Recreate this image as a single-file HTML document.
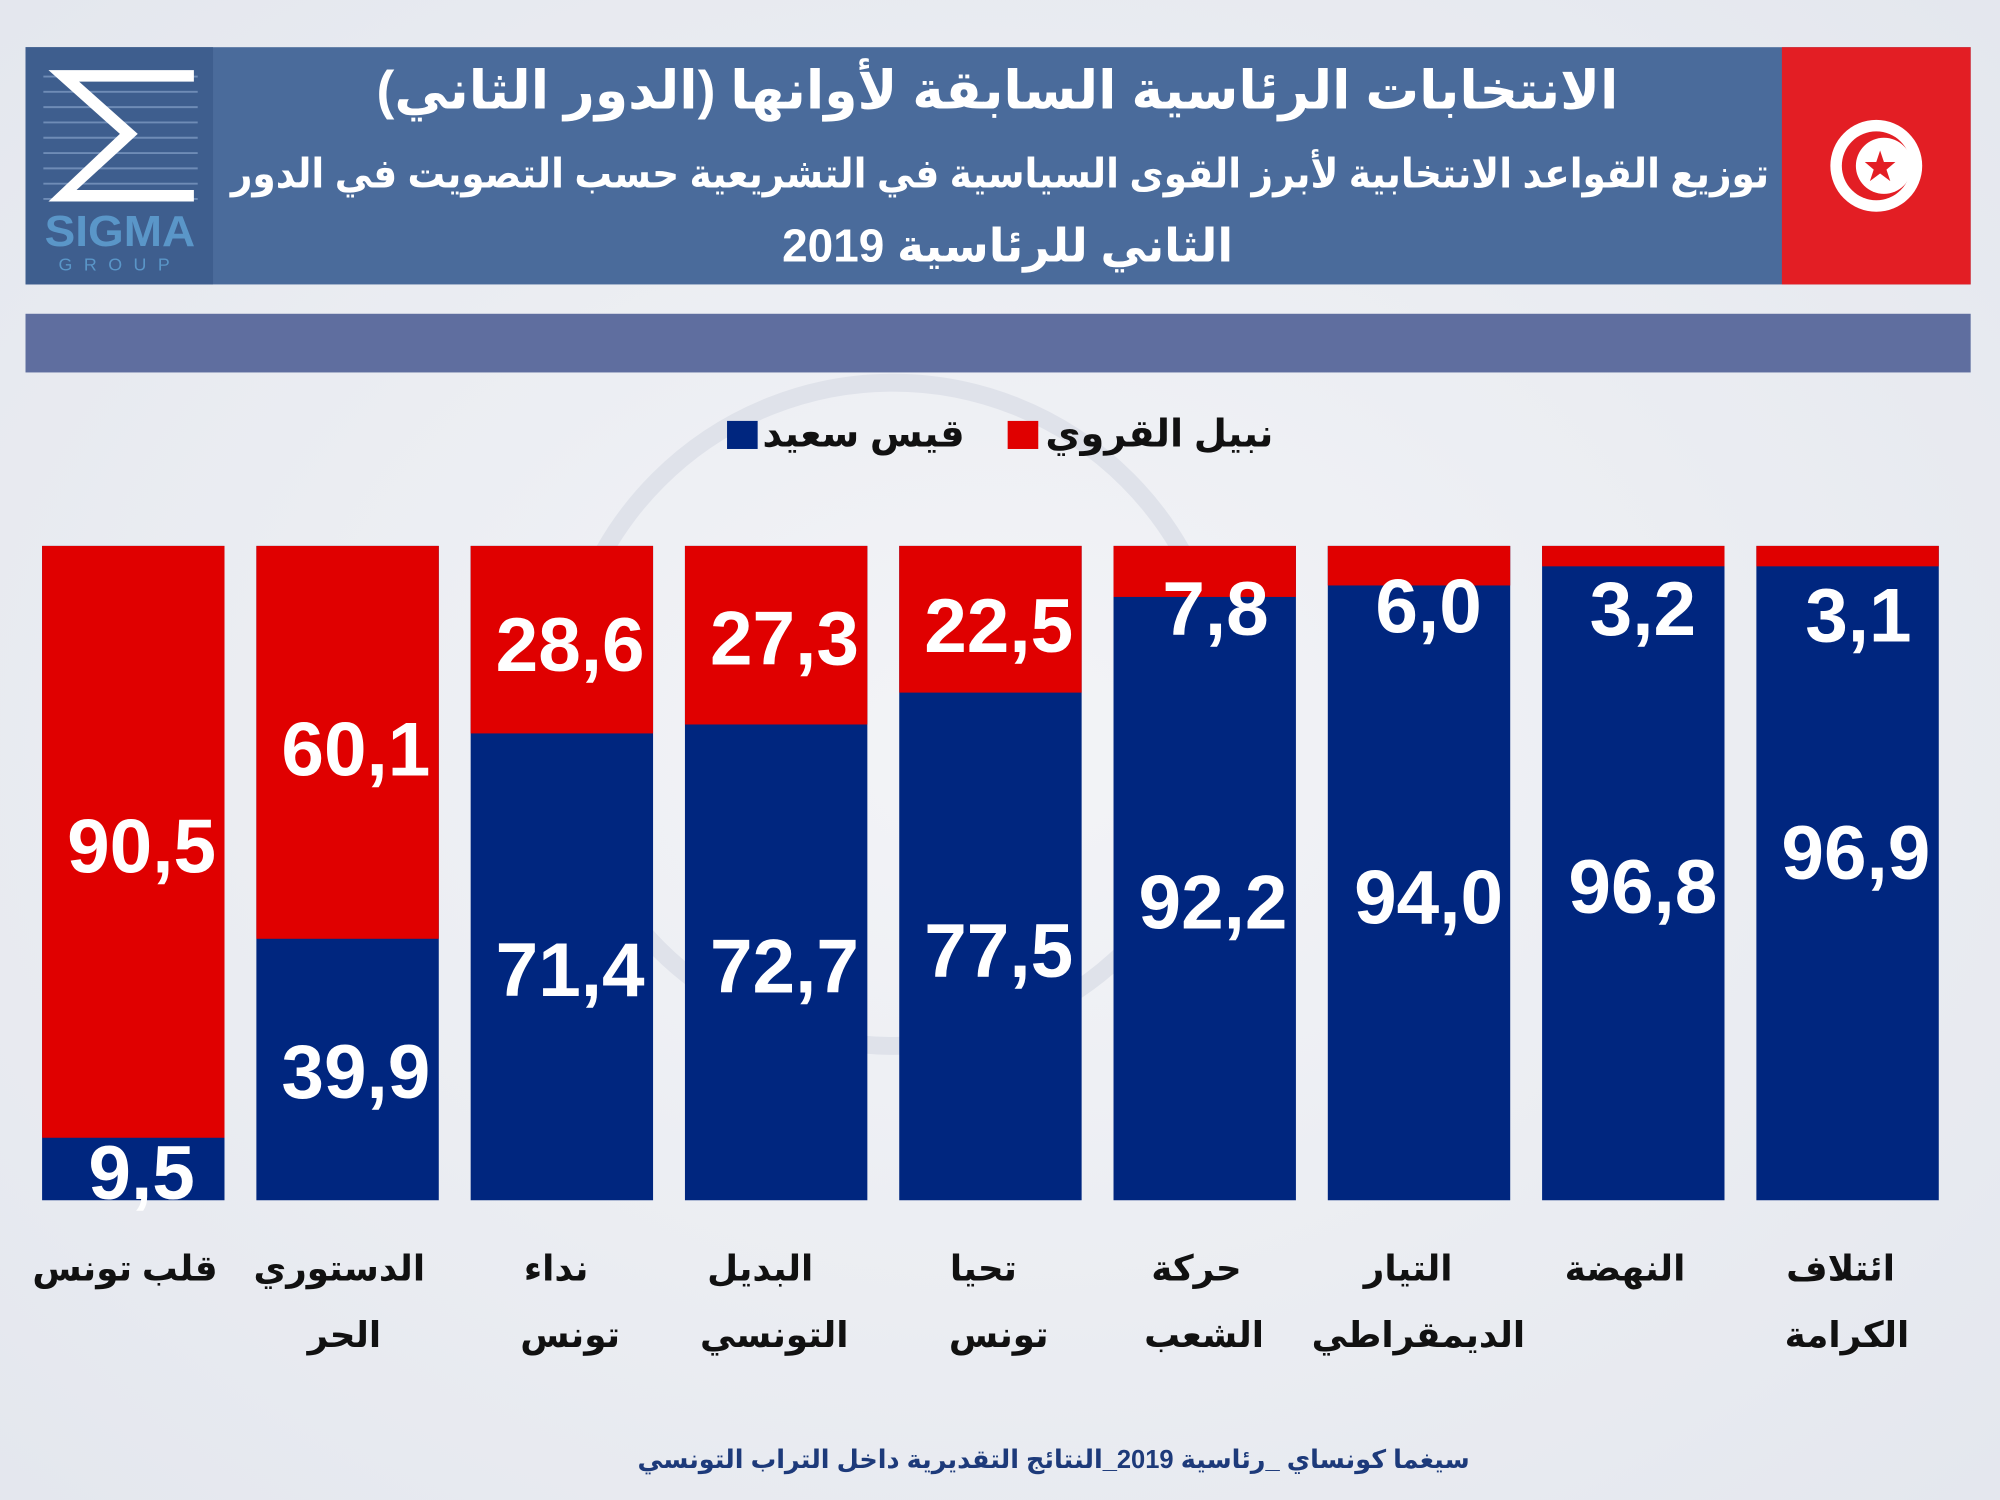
<!DOCTYPE html>
<html><head><meta charset="utf-8">
<style>
html,body{margin:0;padding:0;background:#eef0f5;}
svg{display:block;}
text{font-family:"Liberation Sans","DejaVu Sans",sans-serif;font-weight:bold;}
</style></head>
<body>
<svg width="2000" height="1500" viewBox="0 0 1568 1176" xmlns="http://www.w3.org/2000/svg">
<defs>
<radialGradient id="bg" cx="0.5" cy="0.5" r="0.7">
<stop offset="0" stop-color="#f3f4f7"/><stop offset="1" stop-color="#e4e7ee"/>
</radialGradient>
</defs>
<rect width="1568" height="1176" fill="url(#bg)"/>
<circle cx="700" cy="560" r="260" fill="none" stroke="#dfe2ea" stroke-width="14"/>
<!-- header -->
<rect x="20" y="37" width="1525" height="186" fill="#4a6b9b"/>
<rect x="20" y="37" width="147" height="186" fill="#3e5e8e"/>
<g stroke="#6f8cb6" stroke-width="1.5">
<line x1="34" y1="60" x2="155" y2="60"/><line x1="34" y1="72" x2="155" y2="72"/><line x1="34" y1="84" x2="155" y2="84"/><line x1="34" y1="96" x2="155" y2="96"/><line x1="34" y1="108" x2="155" y2="108"/><line x1="34" y1="120" x2="155" y2="120"/><line x1="34" y1="132" x2="155" y2="132"/><line x1="34" y1="144" x2="155" y2="144"/><line x1="34" y1="156" x2="155" y2="156"/>
</g>
<path d="M38 55 H152 V64 H62 L108 105 L60 149 H152 V158 H38 L94 105 Z" fill="#ffffff"/>
<text x="94" y="193" font-size="34" fill="#5a96c8" text-anchor="middle" textLength="118" lengthAdjust="spacingAndGlyphs">SIGMA</text>
<text x="94" y="212" font-size="14" fill="#5a96c8" text-anchor="middle" letter-spacing="9" style="font-weight:normal">GROUP</text>
<rect x="1397" y="37" width="148" height="186" fill="#e31e24"/>
<circle cx="1471" cy="130" r="36" fill="#fff"/>
<circle cx="1471" cy="130" r="27" fill="#e31e24"/>
<circle cx="1477" cy="130" r="22" fill="#fff"/>
<polygon points="1474,118 1477,127 1486,127 1479,133 1482,142 1474,136 1466,142 1469,133 1462,127 1471,127" fill="#e31e24"/>
<text x="782" y="85" font-size="42" fill="#fff" text-anchor="middle" direction="rtl">الانتخابات الرئاسية السابقة لأوانها (الدور الثاني)</text>
<text x="784" y="147" font-size="32" fill="#fff" text-anchor="middle" direction="rtl" textLength="1206" lengthAdjust="spacingAndGlyphs">توزيع القواعد الانتخابية لأبرز القوى السياسية في التشريعية حسب التصويت في الدور</text>
<text x="790" y="205" font-size="36" fill="#fff" text-anchor="middle" direction="rtl">الثاني للرئاسية  2019</text>
<rect x="20" y="246" width="1525" height="46" fill="#5f6e9f"/>
<!-- legend -->
<rect x="790" y="330" width="24" height="22" fill="#e00000"/>
<text x="909" y="350" font-size="30" fill="#111" text-anchor="middle" direction="rtl">نبيل القروي</text>
<rect x="570" y="330" width="24" height="22" fill="#00267f"/>
<text x="677" y="350" font-size="30" fill="#111" text-anchor="middle" direction="rtl">قيس سعيد</text>
<!-- bars -->
<g>
<rect x="33" y="428" width="143" height="513" fill="#00267f"/><rect x="33" y="428" width="143" height="464" fill="#e00000"/>
<rect x="201" y="428" width="143" height="513" fill="#00267f"/><rect x="201" y="428" width="143" height="308" fill="#e00000"/>
<rect x="369" y="428" width="143" height="513" fill="#00267f"/><rect x="369" y="428" width="143" height="147" fill="#e00000"/>
<rect x="537" y="428" width="143" height="513" fill="#00267f"/><rect x="537" y="428" width="143" height="140" fill="#e00000"/>
<rect x="705" y="428" width="143" height="513" fill="#00267f"/><rect x="705" y="428" width="143" height="115" fill="#e00000"/>
<rect x="873" y="428" width="143" height="513" fill="#00267f"/><rect x="873" y="428" width="143" height="40" fill="#e00000"/>
<rect x="1041" y="428" width="143" height="513" fill="#00267f"/><rect x="1041" y="428" width="143" height="31" fill="#e00000"/>
<rect x="1209" y="428" width="143" height="513" fill="#00267f"/><rect x="1209" y="428" width="143" height="16" fill="#e00000"/>
<rect x="1377" y="428" width="143" height="513" fill="#00267f"/><rect x="1377" y="428" width="143" height="16" fill="#e00000"/>
</g>
<g font-size="60" fill="#fff" text-anchor="middle">
<text x="111" y="684">90,5</text><text x="111" y="940">9,5</text>
<text x="279" y="608">60,1</text><text x="279" y="861">39,9</text>
<text x="447" y="526">28,6</text><text x="447" y="781">71,4</text>
<text x="615" y="521">27,3</text><text x="615" y="778">72,7</text>
<text x="783" y="511">22,5</text><text x="783" y="766">77,5</text>
<text x="953" y="498">7,8</text><text x="951" y="728">92,2</text>
<text x="1120" y="496">6,0</text><text x="1120" y="724">94,0</text>
<text x="1288" y="498">3,2</text><text x="1288" y="716">96,8</text>
<text x="1457" y="503">3,1</text><text x="1455" y="689">96,9</text>
</g>
<g font-size="28" fill="#111" text-anchor="middle" direction="rtl">
<text x="98" y="1004">قلب تونس</text>
<text x="266" y="1004">الدستوري</text><text x="270" y="1056">الحر</text>
<text x="436" y="1004">نداء</text><text x="447" y="1056">تونس</text>
<text x="596" y="1004">البديل</text><text x="607" y="1056">التونسي</text>
<text x="771" y="1004">تحيا</text><text x="783" y="1056">تونس</text>
<text x="938" y="1004">حركة</text><text x="944" y="1056">الشعب</text>
<text x="1104" y="1004">التيار</text><text x="1112" y="1056">الديمقراطي</text>
<text x="1274" y="1004">النهضة</text>
<text x="1443" y="1004">ائتلاف</text><text x="1448" y="1056">الكرامة</text>
</g>
<text x="826" y="1151" font-size="20" fill="#1d3a7a" text-anchor="middle" direction="rtl">سيغما كونساي _رئاسية 2019_النتائج التقديرية داخل التراب التونسي</text>
</svg>
</body></html>
